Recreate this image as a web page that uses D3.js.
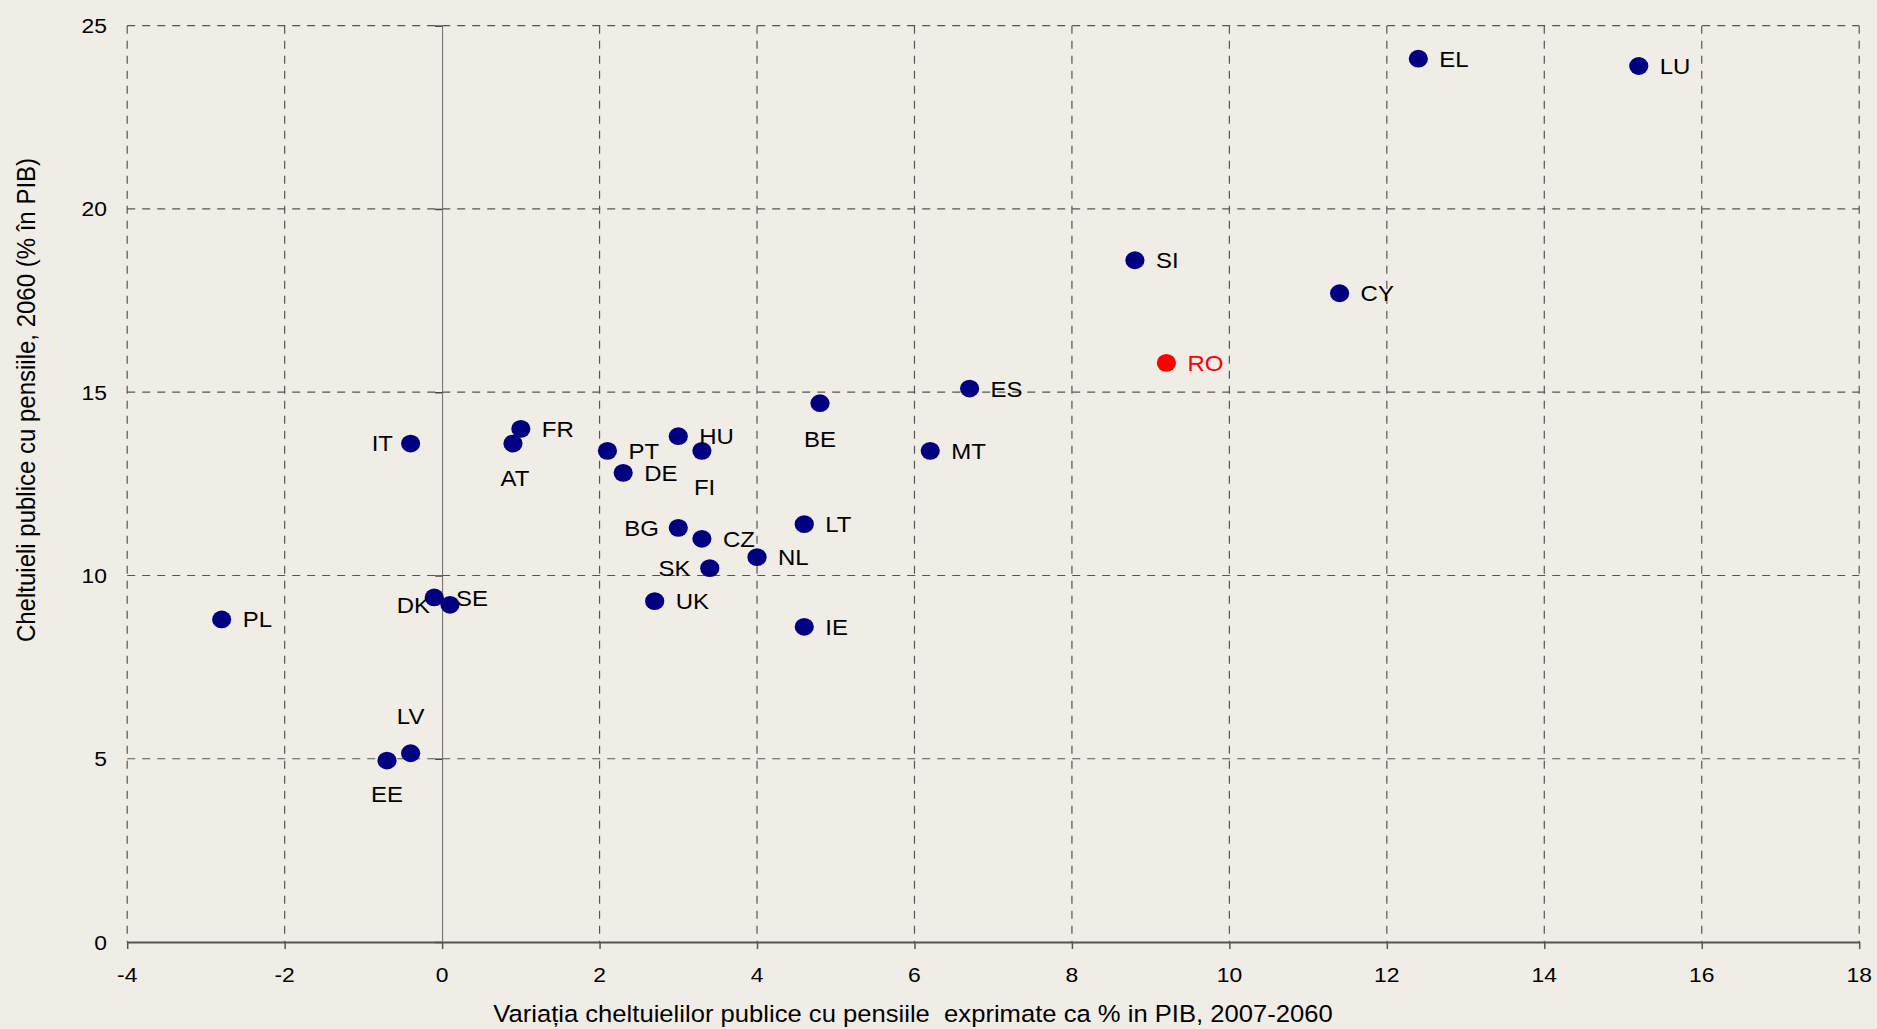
<!DOCTYPE html>
<html>
<head>
<meta charset="utf-8">
<script src="https://cdn.jsdelivr.net/npm/d3@7"></script>
<style>
  html, body { margin: 0; padding: 0; background: #f0ede6; }
  svg { display: block; }
  text { font-family: "Liberation Sans", Arial, sans-serif; white-space: pre; }
</style>
</head>
<body>
<svg id="chart" width="1877" height="1029"></svg>
<script>
// ---- data ----
const countries = ["EL","LU","SI","CY","RO","ES","BE","MT","HU","FI","PT","DE","FR","AT","IT","BG","CZ","LT","NL","SK","UK","IE","DK","SE","PL","LV","EE"];
const changeValues = [12.4,15.2,8.8,11.4,9.2,6.7,4.8,6.2,3.0,3.3,2.1,2.3,1.0,0.9,-0.4,3.0,3.3,4.6,4.0,3.4,2.7,4.6,-0.1,0.1,-2.8,-0.4,-0.7];
const levelValues  = [24.1,23.9,18.6,17.7,15.8,15.1,14.7,13.4,13.8,13.4,13.4,12.8,14.0,13.6,13.6,11.3,11.0,11.4,10.5,10.2,9.3,8.6,9.4,9.2,8.8,5.15,4.95];
const highlighted = ["RO"];
const xTicks = [-4,-2,0,2,4,6,8,10,12,14,16,18];
const yTicks = [0,5,10,15,20,25];
const xTitle = "Variația cheltuielilor publice cu pensiile  exprimate ca % in PIB, 2007-2060";
const yTitle = "Cheltuieli publice cu pensiile, 2060 (% în PIB)";

// ---- layout ----
const W = 1877, H = 1029;
const plot = { left: 127.2, right: 1859.2, top: 25.7, bottom: 942 };
const SX = 1.09; // horizontal stretch of glyphs in the reference

const x = d3.scaleLinear().domain([-4, 18]).range([plot.left, plot.right]);
const y = d3.scaleLinear().domain([0, 25]).range([plot.bottom, plot.top]);

// label placement relative to the point: [dx, dy, anchor]
const place = {
  IT: [-17.6, 7.7, "end"], BG: [-19.4, 8.3, "end"], SK: [-19.4, 8.3, "end"],
  DK: [-4.3, 15.6, "end"], SE: [6, 0.7, "start"],
  AT: [2, 42.7, "middle"], FI: [2.7, 44, "middle"], BE: [0, 43.3, "middle"],
  LV: [0, -29, "middle"], EE: [0, 41, "middle"]
};
const defaultPlace = [21, 8, "start"];

const svg = d3.select("#chart");
svg.append("rect").attr("width", W).attr("height", H).attr("fill", "#f0ede6");

const gridColor = "#555";

// horizontal gridlines (dashed)
svg.append("g").selectAll("line").data(yTicks.filter(v => v !== 0)).join("line")
  .attr("x1", plot.left).attr("x2", plot.right)
  .attr("y1", d => y(d)).attr("y2", d => y(d))
  .attr("stroke", gridColor).attr("stroke-width", 1.2).attr("stroke-dasharray", "8,7");

// vertical gridlines (dashed)
svg.append("g").selectAll("line").data(xTicks.filter(v => v !== 0)).join("line")
  .attr("x1", d => x(d)).attr("x2", d => x(d))
  .attr("y1", plot.top).attr("y2", plot.bottom)
  .attr("stroke", gridColor).attr("stroke-width", 1.2).attr("stroke-dasharray", "8,7");

// y axis along x = 0 with ticks pointing left, no labels
const yAxis = svg.append("g").attr("transform", `translate(${x(0)},0)`)
  .call(d3.axisLeft(y).tickValues(yTicks).tickSize(7).tickFormat(""));
yAxis.select(".domain").attr("stroke", "#6a6a6a").attr("stroke-width", 1);
yAxis.selectAll(".tick line").attr("stroke", "#444").attr("stroke-width", 1.5);

// x axis along y = 0 with ticks pointing down
const xAxis = svg.append("g").attr("transform", `translate(0,${y(0)})`)
  .call(d3.axisBottom(x).tickValues(xTicks).tickSize(7).tickSizeOuter(0).tickFormat(""));
xAxis.select(".domain").attr("stroke", "#555").attr("stroke-width", 2);
xAxis.selectAll(".tick line").attr("stroke", "#555").attr("stroke-width", 1.5);

// helper for horizontally stretched text
function stretchedText(g, tx, ty, str, size, anchor, fill, extra) {
  return g.append("text")
    .attr("transform", `translate(${tx},${ty}) scale(${SX},1)` + (extra || ""))
    .attr("text-anchor", anchor)
    .attr("font-size", size)
    .attr("fill", fill)
    .attr("xml:space", "preserve")
    .text(str);
}

// tick labels
const tl = svg.append("g");
xTicks.forEach(v => stretchedText(tl, x(v), 982, d3.format("d")(v).replace("−", "-"), 21, "middle", "#000"));
yTicks.forEach(v => stretchedText(tl, 107, y(v) + 7.5, String(v), 21, "end", "#000"));

// axis titles
stretchedText(svg, 913, 1022, xTitle, 23.5, "middle", "#000");
svg.append("text")
  .attr("transform", `translate(35,400) scale(${SX},1) rotate(-90)`)
  .attr("text-anchor", "middle").attr("font-size", 24).attr("fill", "#000")
  .text(yTitle);

// points
const data = countries.map((c, i) => ({ c, xv: changeValues[i], yv: levelValues[i] }));
const pts = svg.append("g");
pts.selectAll("ellipse").data(data).join("ellipse")
  .attr("cx", d => x(d.xv)).attr("cy", d => y(d.yv))
  .attr("rx", 9.6).attr("ry", 8.9)
  .attr("fill", d => highlighted.includes(d.c) ? "#ff0000" : "#000080");

// labels
const lg = svg.append("g");
data.forEach(d => {
  const p = place[d.c] || defaultPlace;
  stretchedText(lg, x(d.xv) + p[0], y(d.yv) + p[1], d.c, 22, p[2],
    highlighted.includes(d.c) ? "#ff0000" : "#000");
});
</script>
</body>
</html>
